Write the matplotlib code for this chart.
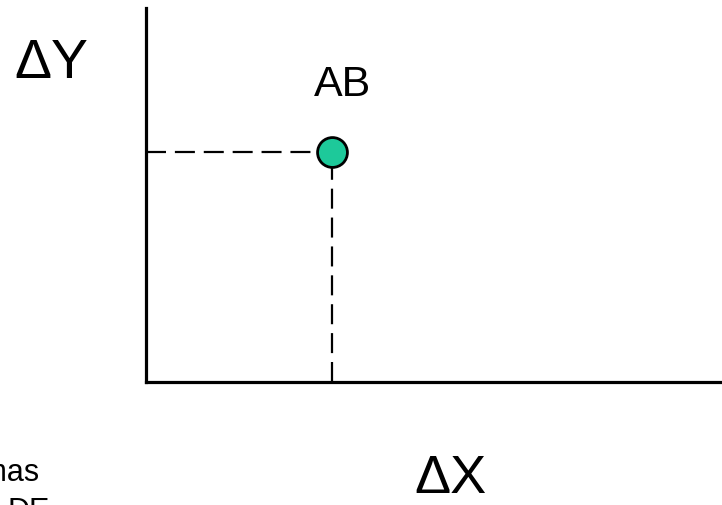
import matplotlib
matplotlib.use("Agg")
import matplotlib.pyplot as plt

plt.rcParams['font.family'] = ['Liberation Sans', 'DejaVu Sans']

# data
point_x = [0.323]
point_y = [0.615]
point_labels = ["AB"]
x_axis_label = "ΔX"
y_axis_label = "ΔY"
note_lines = ["Programas", "DE"]

W, H = 722, 506
fig = plt.figure(figsize=(W / 100, H / 100), dpi=100)
ax = fig.add_axes([146 / W, 1 - 383 / H, (W - 146) / W, (383 - 9) / H])
ax.set_xlim(0, 1)
ax.set_ylim(0, 1)
ax.set_xticks([])
ax.set_yticks([])
for s in ['top', 'right']:
    ax.spines[s].set_visible(False)
for s in ['left', 'bottom']:
    ax.spines[s].set_linewidth(2.3)
    ax.spines[s].set_color('black')

for x, y, lab in zip(point_x, point_y, point_labels):
    ax.plot([0, x], [y, y], color='black', lw=1.6, dashes=(9.0, 4.0), zorder=2)
    ax.plot([x, x], [0, y], color='black', lw=1.6, dashes=(9.0, 4.0), zorder=2)
    ax.scatter([x], [y], s=21.5 ** 2, color='#1dc99a', edgecolor='black',
               linewidth=2.0, zorder=3, clip_on=False)
    ax.annotate(lab, (x, y), xytext=(7.2, 49.0), textcoords='offset points',
                ha='center', va='center', fontsize=31)

fig.text(51.5 / W, 1 - 64 / H, y_axis_label, ha='center', va='center', fontsize=40)
fig.text(450 / W, 1 - 479 / H, x_axis_label, ha='center', va='center', fontsize=39)
fig.text(40 / W, 1 - 481 / H, note_lines[0], ha='right', va='baseline', fontsize=22)
fig.text(50 / W, 1 - 520 / H, note_lines[1], ha='right', va='baseline', fontsize=22)

fig.savefig("out.png", dpi=100)
